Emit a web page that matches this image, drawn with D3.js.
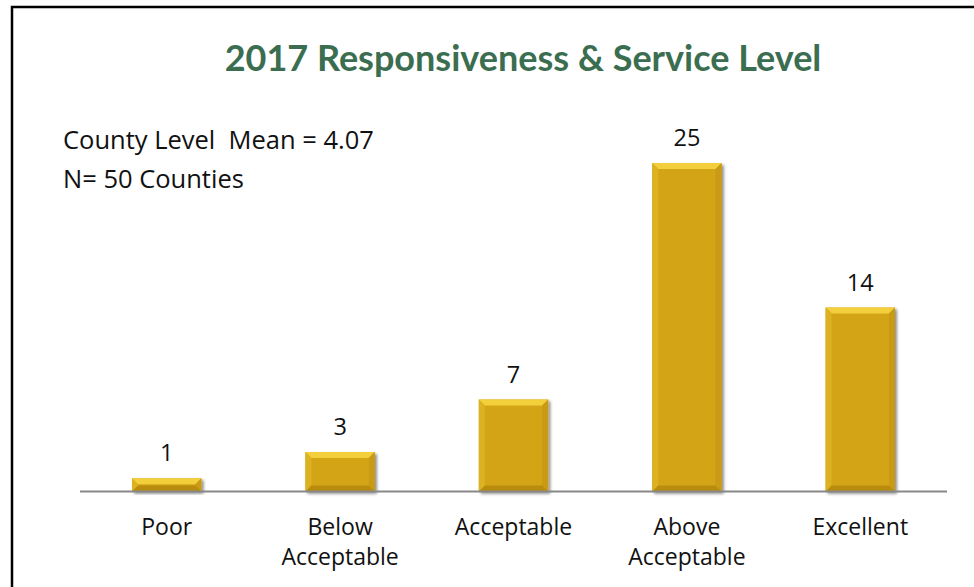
<!DOCTYPE html>
<html>
<head>
<meta charset="utf-8">
<script src="https://cdn.jsdelivr.net/npm/d3@7"></script>
<style>
  html, body { margin: 0; padding: 0; background: #fff; }
  svg { display: block; }
  text { white-space: pre; }
</style>
</head>
<body>
<svg id="chart" width="974" height="587"></svg>
<script>
// Ratings of responsiveness and service level, counts of counties
const categories = ["Poor", "Below Acceptable", "Acceptable", "Above Acceptable", "Excellent"];
const categoryLines = [["Poor"], ["Below", "Acceptable"], ["Acceptable"], ["Above", "Acceptable"], ["Excellent"]];
const counts = [1, 3, 7, 25, 14];
const titleText = "2017 Responsiveness & Service Level";
const noteLines = ["County Level  Mean = 4.07", "N= 50 Counties"];

const W = 974, H = 587;
const svg = d3.select("#chart");
const FONT = "'Open Sans', Lato, sans-serif";
const TITLE_FONT = "Lato, 'Open Sans', sans-serif";

// frame around the slide
svg.append("path")
  .attr("d", `M12,${H} L12,7 L${W},7`)
  .attr("fill", "none")
  .attr("stroke", "#000")
  .attr("stroke-width", 2.5);

const x = d3.scaleBand().domain(categories).range([80, 947]).paddingInner(0.6).paddingOuter(0.3);
const y = d3.scaleLinear().domain([0, 25]).range([491.5, 163]);

const defs = svg.append("defs");
const sh = defs.append("filter").attr("id", "shadow").attr("x", "-20%").attr("y", "-20%").attr("width", "140%").attr("height", "140%");
sh.append("feGaussianBlur").attr("in", "SourceAlpha").attr("stdDeviation", 1.5).attr("result", "b");
sh.append("feOffset").attr("in", "b").attr("dx", 1.5).attr("dy", 1.5).attr("result", "o");
sh.append("feComponentTransfer").attr("in", "o").attr("result", "oa")
  .append("feFuncA").attr("type", "linear").attr("slope", 0.45);
const m = sh.append("feMerge");
m.append("feMergeNode").attr("in", "oa");
m.append("feMergeNode").attr("in", "SourceGraphic");

// bevelled bars
const bev = 6;
const bars = svg.append("g").selectAll("g").data(categories).join("g")
  .attr("filter", "url(#shadow)");

bars.each(function(c, i) {
  const g = d3.select(this);
  const x0 = x(c), x1 = x(c) + x.bandwidth();
  const y0 = y(counts[i]), y1 = y(0);
  const b = Math.min(bev, (y1 - y0) / 2);
  g.append("rect").attr("x", x0).attr("y", y0).attr("width", x1 - x0).attr("height", y1 - y0).attr("fill", "#D3A418");
  // top facet
  g.append("path").attr("d", `M${x0},${y0} L${x1},${y0} L${x1 - b},${y0 + b} L${x0 + b},${y0 + b} Z`).attr("fill", "#F2CF3A");
  // left facet
  g.append("path").attr("d", `M${x0},${y0} L${x0 + b},${y0 + b} L${x0 + b},${y1 - b} L${x0},${y1} Z`).attr("fill", "#DDB224");
  // right facet
  g.append("path").attr("d", `M${x1},${y0} L${x1 - b},${y0 + b} L${x1 - b},${y1 - b} L${x1},${y1} Z`).attr("fill", "#C99A12");
  // bottom facet
  g.append("path").attr("d", `M${x0},${y1} L${x0 + b},${y1 - b} L${x1 - b},${y1 - b} L${x1},${y1} Z`).attr("fill", "#B98C0E");
});

// baseline axis
const axis = svg.append("g").attr("transform", `translate(0,${y(0)})`)
  .call(d3.axisBottom(x).tickSize(0).tickFormat(""));
axis.select(".domain").attr("stroke", "#888").attr("stroke-width", 2).attr("d", "M80,0H947");

// category labels
svg.append("g").selectAll("text").data(categories).join("text")
  .attr("x", c => x(c) + x.bandwidth() / 2)
  .attr("y", 535)
  .attr("text-anchor", "middle")
  .attr("font-family", FONT)
  .attr("font-size", 23)
  .attr("fill", "#111")
  .each(function(c, i) {
    d3.select(this).selectAll("tspan").data(categoryLines[i]).join("tspan")
      .attr("x", x(c) + x.bandwidth() / 2)
      .attr("dy", (d, j) => j === 0 ? 0 : 30)
      .text(d => d);
  });

// value labels
svg.append("g").selectAll("text").data(categories).join("text")
  .attr("x", c => x(c) + x.bandwidth() / 2)
  .attr("y", (c, i) => y(counts[i]) - 17)
  .attr("text-anchor", "middle")
  .attr("font-family", FONT)
  .attr("font-size", 23.5)
  .attr("fill", "#111")
  .text((c, i) => counts[i]);

// title
svg.append("text")
  .attr("x", 523).attr("y", 71)
  .attr("text-anchor", "middle")
  .attr("font-family", TITLE_FONT)
  .attr("font-weight", "bold")
  .attr("font-size", 36)
  .attr("fill", "#3B6E50")
  .text(titleText);

// note
svg.append("g").selectAll("text").data(noteLines).join("text")
  .attr("x", 63)
  .attr("y", (d, i) => 149 + i * 39)
  .attr("font-family", FONT)
  .attr("font-size", 25.5)
  .attr("fill", "#111")
  .text(d => d);
</script>
</body>
</html>
